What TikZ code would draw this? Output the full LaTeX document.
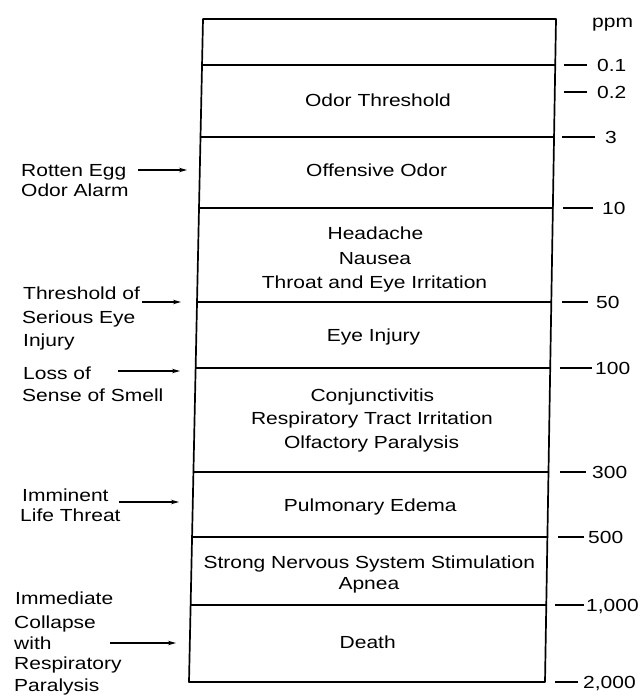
\documentclass[tikz,border=0pt]{standalone}
\usepackage{fontspec}
\setmainfont{Liberation Sans}[FakeStretch=1.2]
\usetikzlibrary{arrows.meta}
\newcommand\BoxL[1]{203-0.02112*(#1-19)}
\newcommand\BoxR[1]{556-0.01659*(#1-19)}
\newcommand\BoxC[1]{379.5-0.018855*(#1-19)}
\begin{document}
\begin{tikzpicture}[x=1pt,y=-1pt,
  boxline/.style={line width=1.7pt, line cap=round, line join=round},
  tickline/.style={line width=1.3pt},
  lbl/.style={font=\fontsize{17.5}{20}\selectfont, inner sep=0pt, anchor=base},
  lftlbl/.style={lbl, anchor=base west},
  ppmlbl/.style={lbl, anchor=base west},
  arr/.style={line width=1.2pt, -{Stealth[length=8pt,width=4.5pt]}}
]
\useasboundingbox[fill=white] (0,0) rectangle (642,699);

% main column
\draw[boxline] ({\BoxL{19}},19) -- ({\BoxR{19}},19) -- ({\BoxR{682}},682) -- ({\BoxL{682}},682) -- cycle;
\foreach \r in {65,137,208,302,368,472,537,605}
  \draw[boxline] ({\BoxL{\r}},\r) -- ({\BoxR{\r}},\r);

% box texts
\node[lbl] (odor)  at ({\BoxC{100}},106) {Odor Threshold};
\node[lbl] (offen) at ({\BoxC{170}},176) {Offensive Odor};
\node[lbl] (hd1)   at ({\BoxC{233}},239) {Headache};
\node[lbl] (hd2)   at ({\BoxC{258}},264) {Nausea};
\node[lbl] (hd3)   at ({\BoxC{282}},288) {Throat and Eye Irritation};
\node[lbl] (eye)   at ({\BoxC{335}},341) {Eye Injury};
\node[lbl] (cj1)   at ({\BoxC{395}},401) {Conjunctivitis};
\node[lbl] (cj2)   at ({\BoxC{418}},424) {Respiratory Tract Irritation};
\node[lbl] (cj3)   at ({\BoxC{442}},448) {Olfactory Paralysis};
\node[lbl] (pulm)  at ({\BoxC{505}},511) {Pulmonary Edema};
\node[lbl] (sn1)   at ({\BoxC{562}},568) {Strong Nervous System Stimulation};
\node[lbl] (sn2)   at ({\BoxC{583}},589) {Apnea};
\node[lbl] (death) at ({\BoxC{642}},648) {Death};

% right scale
\node[ppmlbl] (ppm) at (592,27) {ppm};
\draw[tickline] (564,65) -- (587,65);   \node[ppmlbl] (v01) at (597,71) {0.1};
\draw[tickline] (564,92) -- (587,92);   \node[ppmlbl] (v02) at (597,98) {0.2};
\draw[tickline] (562,137) -- (595,137); \node[ppmlbl] (v3) at (605,143) {3};
\draw[tickline] (563,208) -- (593,208); \node[ppmlbl] (v10) at (602,214) {10};
\draw[tickline] (562,302) -- (588,302); \node[ppmlbl] (v50) at (596,308) {50};
\draw[tickline] (560,368) -- (592,368); \node[ppmlbl] (v100) at (595,374) {100};
\draw[tickline] (560,472) -- (586,472); \node[ppmlbl] (v300) at (592,478) {300};
\draw[tickline] (558,537) -- (584,537); \node[ppmlbl] (v500) at (588,543) {500};
\draw[tickline] (555,605) -- (584,605); \node[ppmlbl] (v1000) at (586,611) {1,000};
\draw[tickline] (555,682) -- (578,682); \node[ppmlbl] (v2000) at (583,688) {2,000};

% left labels
\node[lftlbl] (re1) at (21,176) {Rotten Egg};
\node[lftlbl] (re2) at (21,196) {Odor Alarm};
\node[lftlbl] (th1) at (23,299) {Threshold of};
\node[lftlbl] (th2) at (22,323) {Serious Eye};
\node[lftlbl] (th3) at (23,346) {Injury};
\node[lftlbl] (ls1) at (23,379) {Loss of};
\node[lftlbl] (ls2) at (22,401) {Sense of Smell};
\node[lftlbl] (im1) at (22,501) {Imminent};
\node[lftlbl] (im2) at (20,521) {Life Threat};
\node[lftlbl] (ic1) at (15,604) {Immediate};
\node[lftlbl] (ic2) at (14,628) {Collapse};
\node[lftlbl] (ic3) at (14,649) {with};
\node[lftlbl] (ic4) at (14,669) {Respiratory};
\node[lftlbl] (ic5) at (14,691) {Paralysis};

% arrows
\coordinate (a1s) at (138,170); \coordinate (a1e) at (187,170);
\coordinate (a2s) at (142,302); \coordinate (a2e) at (181,302);
\coordinate (a3s) at (118,371); \coordinate (a3e) at (180,371);
\coordinate (a4s) at (119,502); \coordinate (a4e) at (179,502);
\coordinate (a5s) at (110,643); \coordinate (a5e) at (176,643);
\draw[arr] (a1s) -- (a1e);
\draw[arr] (a2s) -- (a2e);
\draw[arr] (a3s) -- (a3e);
\draw[arr] (a4s) -- (a4e);
\draw[arr] (a5s) -- (a5e);
\end{tikzpicture}
\end{document}
